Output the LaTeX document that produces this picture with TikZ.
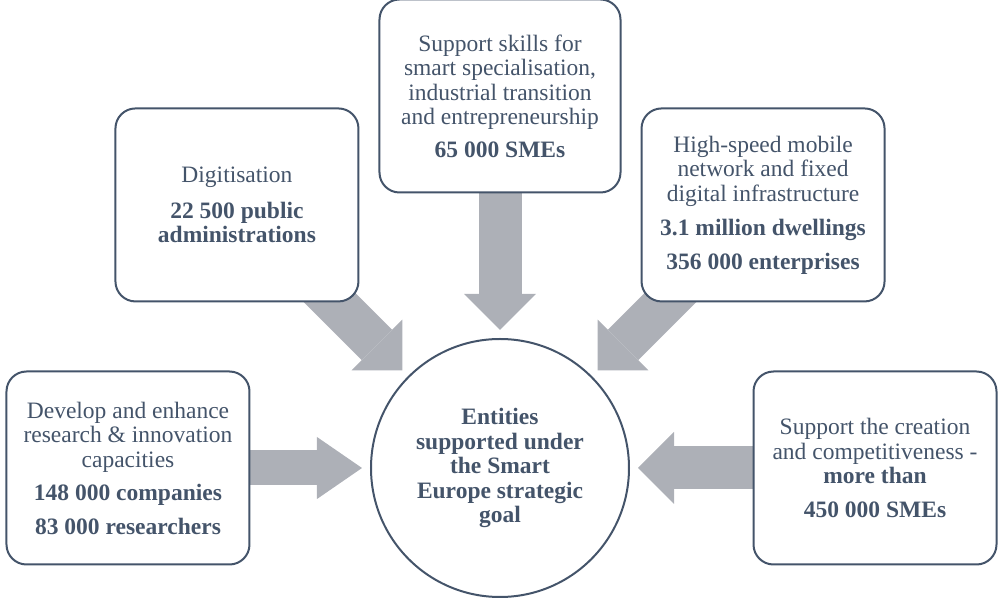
\documentclass[tikz,border=0pt]{standalone}
\usepackage{fontspec}
\setmainfont{LiberationSerif}[
  Extension=.ttf,
  UprightFont=*-Regular,
  BoldFont=*-Bold,
  ItalicFont=*-Italic,
  BoldItalicFont=*-BoldItalic]
\usepackage{tikz}
\usetikzlibrary{positioning, arrows.meta}
\definecolor{slate}{HTML}{44546A}
\definecolor{arrowgrey}{HTML}{ADB0B7}
\pgfdeclarelayer{background}
\pgfsetlayers{background,main}

\begin{document}
\begin{tikzpicture}[%
    x=1pt, y=1pt,
    node distance=372pt,
    align=center,
    font=\fontsize{23.5}{24.5}\selectfont,
    text=slate,
    box/.style={%
      rectangle,
      rounded corners=20pt,
      minimum width=243pt,
      minimum height=193pt,
      line width=2pt,
      draw=slate,
      fill=white
    },
    goal/.style={%
      circle,
      minimum size=258pt,
      line width=2pt,
      draw=slate,
      fill=white,
      font=\fontsize{23.5}{24.5}\selectfont\bfseries
    },
    fat/.style={%
      line width=43pt,
      color=arrowgrey,
      -{Triangle[length=36pt, width=72pt, line width=0pt]},
      shorten >=138pt
    }
  ]
    \useasboundingbox (-500,-133) rectangle (498,468);

    \node[goal] (0) at (0,0) {Entities\\supported under\\the Smart\\Europe strategic\\goal};

    \node[box] (1) [left of=0] {Develop and enhance\\research \& innovation\\capacities\\[9pt]
      \textbf{148 000 companies}\\[9pt]\textbf{83 000 researchers}};

    \node[box] (2) [above left of=0] {Digitisation\\[11pt]\textbf{22 500 public}\\\textbf{administrations}};

    \node[box, minimum width=241pt] (3) [above of=0] {Support skills for\\smart specialisation,\\industrial transition\\and entrepreneurship\\[8pt]
      \textbf{65 000 SMEs}};

    \node[box] (4) [above right of=0] {High-speed mobile\\network and fixed\\digital infrastructure\\[10pt]
      \textbf{3.1 million dwellings}\\[9pt]\textbf{356 000 enterprises}};

    \node[box, node distance=375pt] (5) [right of=0] {Support the creation\\and competitiveness -\\\textbf{more than}\\[9pt]
      \textbf{450 000 SMEs}};

    % grey block arrows sit behind the boxes
    \begin{pgfonlayer}{background}
      \path (1.center) edge [fat, line width=35pt, -{Triangle[length=45pt, width=62pt, line width=0pt]}] (0.center)
            (2.center) edge [fat] (0.center)
            (3.center) edge [fat] (0.center)
            (4.center) edge [fat] (0.center)
            (5.center) edge [fat] (0.center);
    \end{pgfonlayer}
\end{tikzpicture}
\end{document}
